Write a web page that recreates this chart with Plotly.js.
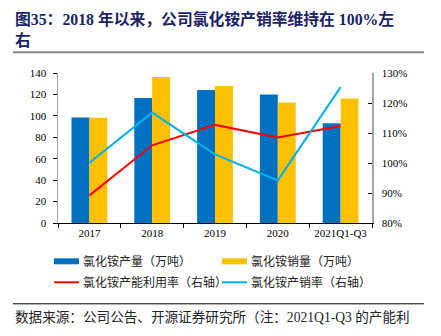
<!DOCTYPE html>
<html><head><meta charset="utf-8">
<script src="https://cdn.plot.ly/plotly-3.0.1.min.js"></script>
<style>html,body{margin:0;padding:0;background:#fff}#c{width:441px;height:336px}</style>
</head><body><div id="c"></div>
<script>
var categories = ['2017','2018','2019','2020','2021Q1-Q3'];
var production = [98.4, 116.7, 124.2, 119.9, 93.1];
var sales = [98.2, 136.3, 127.9, 112.4, 116.1];
var utilization = [89.2, 105.9, 112.7, 108.5, 112.3];
var salesRate = [100.1, 116.8, 102.9, 94.2, 125.3];
var seriesNames = ['氯化铵产量（万吨）','氯化铵销量（万吨）','氯化铵产能利用率（右轴）','氯化铵产销率（右轴）'];
var colors = ['#0070C0','#FFC000','#FF0000','#00B0F0'];
var titleText = '图35：2018 年以来，公司氯化铵产销率维持在 100%左<br>右';
var sourceText = '数据来源：公司公告、开源证券研究所（注：2021Q1-Q3 的产能利';

var L=58, R=372, T=72.7, B=222.7;
var W=R-L, H=B-T;
function px(x){return (x-L)/W;}
function py(y){return (B-y)/H;}

var serif = 'Liberation Serif, Times New Roman, Noto Sans CJK SC, serif';
var cjk = 'Liberation Serif, Noto Sans CJK SC, serif';

var traces = [
 {type:'bar', x:categories, y:production, name:seriesNames[0], marker:{color:colors[0]}, showlegend:false},
 {type:'bar', x:categories, y:sales, name:seriesNames[1], marker:{color:colors[1]}, showlegend:false},
 {type:'scatter', mode:'lines', x:categories, y:utilization, yaxis:'y2', line:{color:colors[2], width:2}, showlegend:false},
 {type:'scatter', mode:'lines', x:categories, y:salesRate, yaxis:'y2', line:{color:colors[3], width:2}, showlegend:false}
];

var shapes = [
 {type:'line', xref:'paper', yref:'paper', x0:px(13), x1:px(424), y0:py(52), y1:py(52), line:{color:'#888', width:2}},
 {type:'line', xref:'paper', yref:'paper', x0:px(13), x1:px(424), y0:py(303.5), y1:py(303.5), line:{color:'#000', width:1}}
];
var annotations = [
 {xref:'paper', yref:'paper', x:px(13), y:py(29), xanchor:'left', yanchor:'middle', align:'left', showarrow:false,
  text:'<b>'+titleText+'</b>', font:{family:cjk, size:15.8, color:'#1a2466'}},
 {xref:'paper', yref:'paper', x:px(13), y:py(317), xanchor:'left', yanchor:'middle', showarrow:false,
  text:sourceText, font:{family:cjk, size:13.6, color:'#222'}}
];
// manual legend
var leg = [
 {x:54, y:261, kind:'bar'}, {x:222, y:261, kind:'bar'},
 {x:54, y:282, kind:'line'}, {x:222, y:282, kind:'line'}
];
leg.forEach(function(l, i){
  if(l.kind==='bar'){
    shapes.push({type:'rect', xref:'paper', yref:'paper', x0:px(l.x), x1:px(l.x+25), y0:py(l.y+3), y1:py(l.y-3), fillcolor:colors[i], line:{width:0}});
  } else {
    shapes.push({type:'line', xref:'paper', yref:'paper', x0:px(l.x), x1:px(l.x+25), y0:py(l.y), y1:py(l.y), line:{color:colors[i], width:2}});
  }
  annotations.push({xref:'paper', yref:'paper', x:px(l.x+27), y:py(l.y), xanchor:'left', yanchor:'middle', showarrow:false,
    text:seriesNames[i], font:{family:cjk, size:12, color:'#222'}});
});

var layout = {
 width:441, height:336,
 margin:{l:L, r:441-R, t:T, b:336-B, pad:0},
 paper_bgcolor:'#fff', plot_bgcolor:'#fff',
 barmode:'group', bargap:0.43, bargroupgap:0,
 font:{family:serif, size:11, color:'#000'},
 xaxis:{type:'category', showgrid:false, showline:true, linecolor:'#000', linewidth:1,
   ticks:'outside', tickson:'boundaries', ticklen:4, tickcolor:'#000', tickfont:{family:serif, size:11}},
 yaxis:{range:[0,140], dtick:20, showgrid:false, showline:true, linecolor:'#a6a6a6', linewidth:1.5,
   ticks:'outside', ticklen:4, tickcolor:'#000', zeroline:false, ticklabelstandoff:4, tickfont:{family:serif, size:11}},
 yaxis2:{overlaying:'y', side:'right', range:[80,130], dtick:10, ticksuffix:'%', showgrid:false,
   showline:true, linecolor:'#a6a6a6', linewidth:1.5, ticks:'inside', ticklen:4, tickcolor:'#000',
   zeroline:false, ticklabelstandoff:6, tickfont:{family:serif, size:11}},
 showlegend:false,
 shapes:shapes, annotations:annotations
};
Plotly.newPlot('c', traces, layout, {displayModeBar:false, staticPlot:true});
</script></body></html>
